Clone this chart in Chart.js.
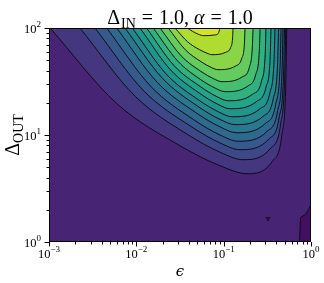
<!DOCTYPE html>
<html>
<head>
<meta charset="utf-8">
<script src="https://cdn.jsdelivr.net/npm/chart.js@4"></script>
<style>
  html, body { margin: 0; padding: 0; background: #fff; }
  canvas { display: block; }
</style>
</head>
<body>
<canvas id="c" width="324" height="283"></canvas>
<script>
/* ── Contour lines: [epsilon, Delta_OUT] ── */
const line1  = [[0.00103,100],[0.0060,19.6],[0.0316,7.94],[0.0908,5.16],[0.185,4.35],[0.365,5.75],[0.464,10.1],[0.516,32.9],[0.527,100]];
const line2  = [[0.00226,100],[0.00976,22.9],[0.0387,10.1],[0.0925,6.86],[0.1665,5.88],[0.347,7.56],[0.449,12.65],[0.501,36.5],[0.513,100]];
const line3  = [[0.00336,100],[0.0123,25.6],[0.0420,12.06],[0.0910,8.42],[0.154,7.29],[0.330,9.20],[0.433,14.8],[0.486,39.5],[0.497,100]];
const line4  = [[0.00458,100],[0.0148,28.2],[0.0450,13.96],[0.0908,10.0],[0.146,8.75],[0.316,10.87],[0.415,16.9],[0.467,42.1],[0.478,100]];
const line5  = [[0.00596,100],[0.0174,31.0],[0.0480,16.2],[0.0910,11.9],[0.140,10.5],[0.301,12.84],[0.394,19.3],[0.443,44.9],[0.454,100]];
const line6  = [[0.00742,100],[0.0199,33.9],[0.0503,18.6],[0.0906,14.0],[0.135,12.5],[0.284,15.0],[0.370,21.9],[0.415,47.8],[0.425,100]];
const line7  = [[0.0090,100],[0.0220,37.1],[0.0510,21.4],[0.0868,16.5],[0.125,14.8],[0.261,17.6],[0.338,24.8],[0.378,50.8],[0.387,100]];
const line8  = [[0.0110,100],[0.0247,40.5],[0.0528,24.6],[0.0855,19.4],[0.118,17.6],[0.239,20.6],[0.306,28.2],[0.341,54.0],[0.348,100]];
const line9  = [[0.0131,100],[0.0272,44.3],[0.0542,28.3],[0.0837,22.8],[0.112,20.9],[0.215,24.1],[0.271,31.9],[0.299,57.4],[0.305,100]];
const line10 = [[0.0156,100],[0.0298,49.1],[0.0544,33.0],[0.0800,27.4],[0.104,25.4],[0.189,28.7],[0.233,36.8],[0.256,61.5],[0.261,100]];
const line11 = [[0.0187,100],[0.0326,54.9],[0.0549,39.3],[0.0765,33.6],[0.0957,31.5],[0.163,34.9],[0.197,43.0],[0.213,66.3],[0.217,100]];
const line12 = [[0.0232,100],[0.0363,62.7],[0.0552,48.4],[0.0720,42.8],[0.0862,40.8],[0.137,44.2],[0.161,52.0],[0.173,72.7],[0.1755,100]];
const line13 = [[0.0277,100],[0.0387,74.2],[0.0528,62.8],[0.0643,58.2],[0.0735,56.3],[0.1055,59.3],[0.120,65.7],[0.1266,81.5],[0.128,100]];
const line14 = [[0.0380,100],[0.0511,87.5],[0.0596,84.7],[0.0783,86.0],[0.0864,88.6],[0.0908,100]];

/* low-value patch in the lower right corner and the lone speck */
const lowPatch = [[0.739,1.0],[0.759,1.69],[0.854,1.80],[0.936,2.00],[1.0,2.23]];
const lowSpeck = [[0.322,1.65]];

/* band colour above each contour line (viridis) */
const BAND_COLORS = ["#44377f","#3e4889","#375a8c","#30698e","#2a788e","#25868d","#20958b",
                     "#24a386","#30b17d","#45be70","#64cb5e","#89d447","#afdd2f","#d6e228"];
const BG_COLOR  = "#482475";
const LOW_COLOR = "#450f61";
const LINE_COLOR = "rgba(10,10,20,0.95)";

/* ── Axes ── */
const X_TICKS    = [1e-3, 1e-2, 1e-1, 1];
const X_TICK_EXP = ["\u22123", "\u22122", "\u22121", "0"];
const Y_TICKS    = [1, 10, 100];
const Y_TICK_EXP = ["0", "1", "2"];

const SERIF = '"Liberation Serif", "DejaVu Serif", serif';

function richText(ctx, parts, x, y, align) {
  let total = 0;
  const widths = parts.map(p => {
    ctx.font = `${p.italic ? "italic " : ""}${p.size}px ${p.family || SERIF}`;
    const w = ctx.measureText(p.t).width;
    total += w + (p.gap || 0);
    return w;
  });
  let cx = align === "center" ? x - total / 2 : align === "right" ? x - total : x;
  ctx.textAlign = "left";
  ctx.textBaseline = "alphabetic";
  parts.forEach((p, i) => {
    ctx.font = `${p.italic ? "italic " : ""}${p.size}px ${p.family || SERIF}`;
    ctx.fillText(p.t, cx, y + (p.dy || 0));
    cx += widths[i] + (p.gap || 0);
  });
}

/* ── Frame, ticks and labels ── */
const decor = {
  id: "decor",
  beforeDatasetsDraw(chart) {
    const { ctx, chartArea: a } = chart;
    ctx.save();
    ctx.fillStyle = BG_COLOR;
    ctx.fillRect(a.left, a.top, a.right - a.left, a.bottom - a.top);
    ctx.restore();
  },
  afterDraw(chart) {
    const { ctx, chartArea: a } = chart;
    const sx = chart.scales.x, sy = chart.scales.y;
    ctx.save();
    ctx.strokeStyle = "#000";
    ctx.fillStyle = "#000";
    ctx.lineWidth = 1;

    // frame
    ctx.strokeRect(a.left + 0.5, a.top + 0.5, a.right - a.left - 1, a.bottom - a.top - 1);

    // minor ticks
    ctx.beginPath();
    X_TICKS.slice(0, -1).forEach(d => {
      for (let k = 2; k <= 9; k++) {
        const px = Math.round(sx.getPixelForValue(k * d)) + 0.5;
        ctx.moveTo(px, a.bottom); ctx.lineTo(px, a.bottom + 2.5);
      }
    });
    Y_TICKS.slice(0, -1).forEach(d => {
      for (let k = 2; k <= 9; k++) {
        const py = Math.round(sy.getPixelForValue(k * d)) + 0.5;
        ctx.moveTo(a.left, py); ctx.lineTo(a.left - 2.5, py);
      }
    });
    ctx.stroke();

    // major ticks + labels
    ctx.beginPath();
    X_TICKS.forEach(v => {
      const px = Math.round(sx.getPixelForValue(v)) + 0.5;
      ctx.moveTo(px, a.bottom); ctx.lineTo(px, a.bottom + 4.5);
    });
    Y_TICKS.forEach(v => {
      const py = Math.round(sy.getPixelForValue(v)) + 0.5;
      ctx.moveTo(a.left, py); ctx.lineTo(a.left - 4.5, py);
    });
    ctx.stroke();

    X_TICKS.forEach((v, i) => {
      richText(ctx, [{ t: "10", size: 12.5 }, { t: X_TICK_EXP[i], size: 9, dy: -6 }],
               sx.getPixelForValue(v), a.bottom + 16, "center");
    });
    Y_TICKS.forEach((v, i) => {
      richText(ctx, [{ t: "10", size: 12.5 }, { t: Y_TICK_EXP[i], size: 9, dy: -6 }],
               a.left - 8, sy.getPixelForValue(v) + 4.5, "right");
    });

    // axis titles
    richText(ctx, [{ t: "\u03f5", size: 15, italic: true, family: '"DejaVu Serif", serif' }],
             (a.left + a.right) / 2, 276, "center");
    ctx.save();
    ctx.translate(19, (a.top + a.bottom) / 2);
    ctx.rotate(-Math.PI / 2);
    richText(ctx, [{ t: "\u0394", size: 20 }, { t: "OUT", size: 14, dy: 4 }], 0, 0, "center");
    ctx.restore();

    // title
    richText(ctx, [
      { t: "\u0394", size: 20, gap: 1 },
      { t: "IN", size: 14, dy: 4, gap: 6 },
      { t: "=", size: 20, gap: 6 },
      { t: "1.0,", size: 20, gap: 5 },
      { t: "\u03b1", size: 20, italic: true, gap: 6 },
      { t: "=", size: 20, gap: 6 },
      { t: "1.0", size: 20 }
    ], (a.left + a.right) / 2, 24, "center");
    ctx.restore();
  }
};

/* ── Datasets ── */
const contourLines = [line1, line2, line3, line4, line5, line6, line7,
                      line8, line9, line10, line11, line12, line13, line14];

const datasets = contourLines.map((pts, i) => ({
  data: pts.map(([x, y]) => ({ x, y })),
  backgroundColor: BAND_COLORS[i],
  borderColor: LINE_COLOR,
  borderWidth: 1,
  fill: { value: 100 },
  pointRadius: 0,
  cubicInterpolationMode: "monotone",
  clip: 0,
  order: 50 - i,
}));

datasets.push({
  data: lowPatch.map(([x, y]) => ({ x, y })),
  backgroundColor: LOW_COLOR,
  borderColor: LINE_COLOR,
  borderWidth: 1,
  fill: { value: 1 },
  pointRadius: 0,
  tension: 0,
  clip: 0,
  order: 100,
});

datasets.push({
  data: lowSpeck.map(([x, y]) => ({ x, y })),
  showLine: false,
  fill: false,
  pointStyle: "triangle",
  rotation: 180,
  pointRadius: 2.5,
  pointBackgroundColor: "#2e0f4a",
  pointBorderColor: "#111",
  pointBorderWidth: 0.6,
  order: 0,
});

new Chart(document.getElementById("c"), {
  type: "line",
  data: { datasets },
  options: {
    responsive: false,
    animation: false,
    devicePixelRatio: 1,
    events: [],
    layout: { padding: { left: 49, right: 13, top: 28, bottom: 41 } },
    scales: {
      x: { type: "logarithmic", min: 1e-3, max: 1, display: false },
      y: { type: "logarithmic", min: 1, max: 100, display: false },
    },
    plugins: { legend: { display: false }, tooltip: { enabled: false } },
  },
  plugins: [decor],
});
</script>
</body>
</html>
